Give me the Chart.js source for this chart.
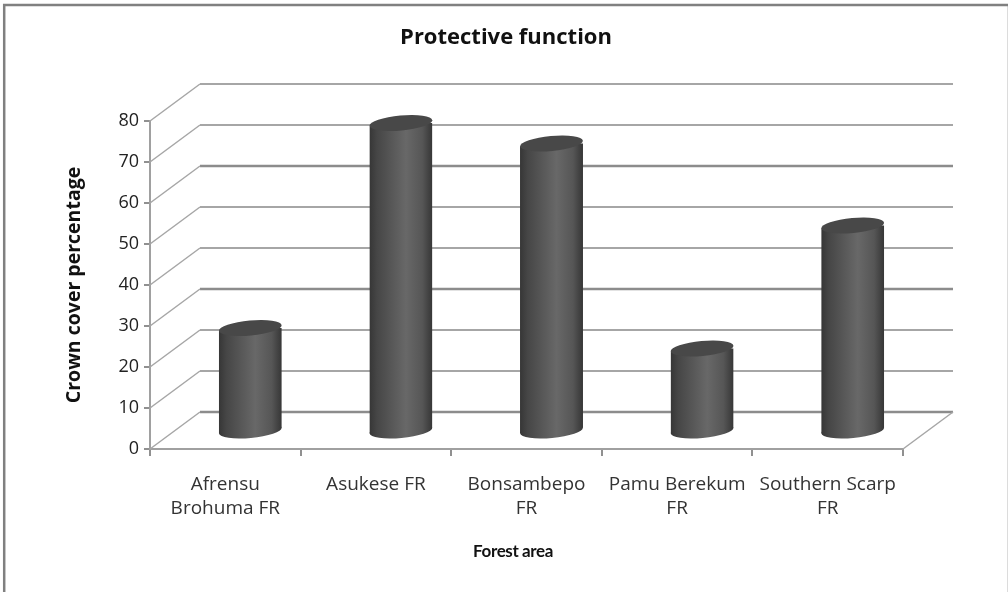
<!DOCTYPE html>
<html>
<head>
<meta charset="utf-8">
<title>Protective function</title>
<script src="https://cdn.jsdelivr.net/npm/chart.js@4/dist/chart.umd.min.js"></script>
<style>
  html, body { margin: 0; background: #fff; }
  canvas { display: block; }
</style>
</head>
<body>
<canvas id="chart" width="1008" height="592"></canvas>
<script>
const categories = [['Afrensu', 'Brohuma FR'], 'Asukese FR', ['Bonsambepo', 'FR'], ['Pamu Berekum', 'FR'], ['Southern Scarp', 'FR']];
const crownCover = [25, 75, 70, 20, 50];
const yTicks = [0, 10, 20, 30, 40, 50, 60, 70, 80];
const heavyLines = [0, 30, 60];

const chartTitle = 'Protective function';
const xTitle = 'Forest area';
const yTitle = 'Crown cover percentage';

//3d look, depth of the box and of the cylinders
const depthX = 50, depthY = -37;
const barPct = 0.418;
const tilt = -0.09;
const fontName = '"Open Sans", Lato, sans-serif';

function cylinderGradient(c, x, w) {
  let g = c.createLinearGradient(x - w / 2, 0, x + w / 2, 0);
  g.addColorStop(0, '#363636');
  g.addColorStop(0.12, '#464646');
  g.addColorStop(0.58, '#686868');
  g.addColorStop(0.84, '#565656');
  g.addColorStop(1, '#363636');
  return g;
}

function barFill(ctx) {
  let chart = ctx.chart;
  if (!chart.chartArea) return '#555555';
  let x = chart.scales.x.getPixelForValue(ctx.dataIndex);
  return cylinderGradient(chart.ctx, x, barWidth(chart));
}

function barWidth(chart) {
  return chart.chartArea.width / categories.length * barPct;
}

function ellipse(c, x, y, rx) {
  c.beginPath();
  c.ellipse(x, y, rx, 7.5, tilt, 0, Math.PI * 2);
}

const boxPlugin = {
  id: 'box3d',
  beforeDraw(chart) {
    let c = chart.ctx;
    c.save();
    //frame round the picture, no line at the bottom
    c.strokeStyle = '#dcdcdc';
    c.lineWidth = 1;
    c.beginPath();
    c.moveTo(1007.5, 4);
    c.lineTo(1007.5, 592);
    c.stroke();
    c.strokeStyle = '#808080';
    c.lineWidth = 2.5;
    c.beginPath();
    c.moveTo(4.2, 592);
    c.lineTo(4.2, 5);
    c.lineTo(1008, 5);
    c.stroke();
    //titles
    c.fillStyle = '#111111';
    c.textAlign = 'center';
    c.textBaseline = 'middle';
    c.font = 'bold 22px ' + fontName;
    c.fillText(chartTitle, 506, 38);
    c.font = 'bold 17px Lato, ' + fontName;
    c.letterSpacing = '-0.4px';
    c.fillText(xTitle, 513, 552);
    c.restore();
  },
  beforeDatasetsDraw(chart) {
    let c = chart.ctx, y = chart.scales.y, a = chart.chartArea;
    c.save();
    yTicks.forEach(v => {
      let py = y.getPixelForValue(v);
      let heavy = heavyLines.includes(v);
      c.strokeStyle = heavy ? '#8c8c8c' : '#a6a6a6';
      c.lineWidth = heavy ? 2.5 : 2;
      c.beginPath();
      c.moveTo(a.left + depthX, py + depthY);
      c.lineTo(a.right + depthX, py + depthY);
      c.stroke();
      c.strokeStyle = '#a6a6a6';
      c.lineWidth = 1.5;
      c.beginPath();
      c.moveTo(a.left, py);
      c.lineTo(a.left + depthX, py + depthY);
      c.stroke();
    });
    c.beginPath();
    c.moveTo(a.right, a.bottom);
    c.lineTo(a.right + depthX, a.bottom + depthY);
    c.stroke();

    //bars sit half way into the box, cut the ends on the slant
    let bars = chart.getDatasetMeta(0).data;
    let w = barWidth(chart), slant = Math.tan(tilt) * w / 2;
    c.translate(depthX / 2, depthY / 2);
    bars.forEach(bar => {
      ellipse(c, bar.x, y.getPixelForValue(0), w / 2);
      c.fillStyle = cylinderGradient(c, bar.x, w);
      c.fill();
    });
    c.beginPath();
    bars.forEach(bar => {
      let top = bar.y, bottom = y.getPixelForValue(0);
      c.moveTo(bar.x - w / 2, top - slant);
      c.lineTo(bar.x + w / 2, top + slant);
      c.lineTo(bar.x + w / 2, bottom + slant);
      c.lineTo(bar.x - w / 2, bottom - slant);
      c.closePath();
    });
    c.clip();
  },
  afterDatasetsDraw(chart) {
    let c = chart.ctx, w = barWidth(chart);
    c.restore();
    c.save();
    c.translate(depthX / 2, depthY / 2);
    chart.getDatasetMeta(0).data.forEach(bar => {
      ellipse(c, bar.x, bar.y, w / 2);
      c.fillStyle = '#484848';
      c.fill();
    });
    c.restore();
  }
};

new Chart(document.getElementById('chart'), {
  type: 'bar',
  data: {
    labels: categories,
    datasets: [{
      label: yTitle,
      data: crownCover,
      backgroundColor: barFill,
      base: -1,
      clip: false,
      categoryPercentage: 1,
      barPercentage: barPct
    }]
  },
  plugins: [boxPlugin],
  options: {
    responsive: false,
    animation: false,
    layout: { padding: { top: 121, right: 105, left: 0, bottom: 0 } },
    plugins: { legend: { display: false }, tooltip: { enabled: false } },
    scales: {
      x: {
        afterFit(s) { s.height = 143; },
        border: { color: '#a0a0a0', width: 2 },
        grid: { drawOnChartArea: false, color: '#909090', lineWidth: 2, tickLength: 7, offset: true },
        ticks: {
          autoSkip: false,
          maxRotation: 0,
          padding: 17,
          color: '#333333',
          font: { family: fontName, size: 19, lineHeight: 1.26 }
        }
      },
      y: {
        min: 0,
        max: 80,
        afterFit(s) { s.width = 150; },
        border: { color: '#a0a0a0', width: 2 },
        grid: { drawOnChartArea: false, color: '#909090', lineWidth: 2, tickLength: 6 },
        ticks: {
          stepSize: 10,
          padding: 5,
          color: '#222222',
          font: { family: fontName, size: 18 }
        },
        title: {
          display: true,
          text: yTitle,
          color: '#111111',
          padding: { top: 63, bottom: 0 },
          font: { family: fontName, size: 19.5, weight: 'bold' }
        }
      }
    }
  }
});
</script>
</body>
</html>
